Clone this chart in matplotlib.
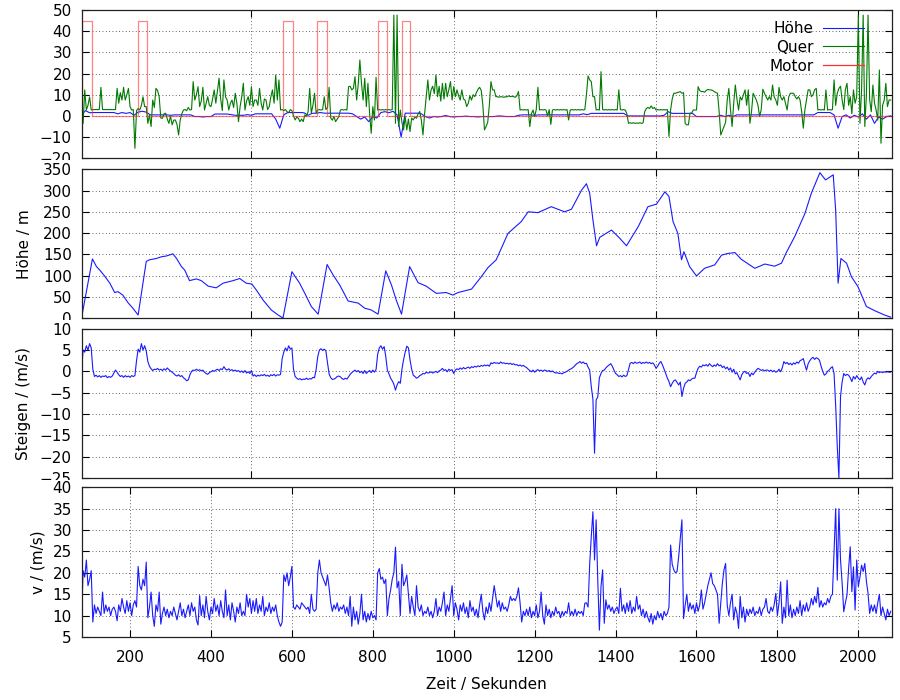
import matplotlib
matplotlib.use("Agg")
import matplotlib.pyplot as plt
import numpy as np
from matplotlib.transforms import Bbox, TransformedBbox

# time grid start / step of the sampled series
T0 = 80
DT_FAST = 4     # v, Steigen, Quer
DT_SLOW = 10    # Hoehe control (blue, top panel)

# ---- panel 2: Hoehe / m (breakpoints)
hoehe_t = [80, 107, 117, 125, 137, 150, 162, 170, 182, 195, 207, 220,
           240, 248, 265, 277, 290, 306, 315, 327, 335, 347, 364, 376, 393, 413, 430, 455, 471, 487,
           501, 512, 529, 549, 566, 578,
           600, 619, 632, 648, 665,
           687, 702, 718, 739, 764, 780, 796, 813,
           832, 846, 858, 871,
           891, 912, 932, 957, 981, 998, 1011, 1044, 1068, 1085, 1105, 1134, 1167, 1184, 1208, 1241,
           1274, 1291, 1316, 1328, 1336, 1344, 1353, 1361, 1390, 1410, 1427, 1456, 1480, 1501, 1522,
           1532, 1542, 1554, 1563, 1569, 1583, 1600, 1620, 1645, 1662, 1678, 1695, 1711, 1744, 1769,
           1793, 1810, 1822, 1843, 1868, 1884, 1905, 1919, 1938, 1944, 1950, 1957, 1971, 1983, 1999,
           2020, 2041, 2065, 2080]
hoehe_v = [0, 139, 121, 113, 99, 82, 60, 62, 54, 36, 23, 7,
           133, 137, 140, 144, 146, 151, 140, 121, 113, 88, 92, 88, 75, 71, 82, 88, 93, 82,
           80, 66, 42, 19, 7, 0,
           109, 82, 58, 27, 9,
           126, 101, 78, 40, 35, 23, 19, 9,
           111, 78, 42, 9,
           121, 83, 75, 58, 60, 54, 60, 68, 97, 119, 137, 199, 227, 250, 248, 262,
           250, 256, 301, 316, 294, 231, 170, 190, 207, 188, 170, 215, 262, 268, 297,
           286, 227, 199, 137, 156, 121, 99, 117, 125, 148, 152, 154, 138, 117, 127,
           122, 129, 154, 192, 246, 294, 342, 325, 337, 254, 82, 140, 129, 97, 74,
           27, 17, 7, 2]

# ---- panel 4: v / (m/s), every 4 s from t=80
v_ms = [
    9, 20.5, 19, 23, 17, 18.5, 20.5, 8.5, 12.5, 10.5, 12, 11, 10, 15.5, 10.5, 12.5, 11, 12, 10, 11.5, 12, 11, 8.8, 12.5, 11,
    14, 12, 10.5, 13.5, 11, 13, 10, 12.5, 13.5, 12, 21.5, 17, 16, 18.5, 17, 22.5, 9.5, 12, 15.5, 10, 7.5, 12.5, 11, 15.5, 8,
    10.5, 12, 10, 11.5, 9.5, 11, 10, 12, 10.5, 9, 11, 13, 10, 11.5, 9.5, 11, 12.5, 10, 13, 11, 12, 9, 7.8, 14.7, 10,
    12.5, 9.5, 14.5, 11, 9, 12, 10.5, 14, 11, 12.5, 10, 13.5, 11, 9.5, 16, 10, 12.5, 9, 13, 11, 8.5, 12, 10.5, 13, 10,
    11, 10, 15, 12, 14, 10.5, 13.5, 11, 14, 10.5, 12.5, 11, 14.5, 10, 12, 11, 13, 10.5, 12, 11, 12.5, 10, 8.5, 7.5, 8.5,
    19.5, 18, 20, 17, 19, 21.5, 12, 11.5, 12.5, 12, 11.5, 13, 12.5, 12, 11.5, 12, 10.5, 15, 11.5, 11, 11.5, 20, 23, 20, 19,
    18, 17, 19.5, 16.5, 13, 11, 12.5, 11.5, 13, 11, 12, 11.5, 12.5, 10.5, 12, 10, 14.5, 7.5, 12, 9, 11, 8, 10.5, 15, 9,
    11, 8.5, 10.5, 9, 11, 9.5, 10, 9, 20, 21, 18.5, 19, 17.5, 18.5, 10, 14, 16, 18.5, 20, 26, 16.5, 18, 10, 22, 17,
    18, 19.5, 15, 10.5, 14.5, 12, 10, 17, 12, 11, 12.5, 10, 11, 10.5, 12, 10, 11, 9.5, 11, 14, 10, 12, 11, 13, 15.5,
    10, 12.5, 11, 14, 17, 10, 13, 11.5, 9, 12.5, 11, 13, 10.5, 12, 9.5, 13.5, 11, 12, 10, 11.5, 9.5, 12.5, 15, 11, 9,
    12, 10.5, 13, 11, 14, 17, 14.5, 12, 13.5, 11, 13, 11.5, 12, 11, 12.5, 14.5, 13.5, 14, 13.5, 14.5, 16.5, 13, 8.5, 11, 10,
    11.5, 10, 12, 9.5, 11, 10, 12.5, 9.5, 11, 15.5, 10, 8, 12.5, 10, 11.5, 9.5, 11, 10, 12, 10.5, 11, 9.5, 11, 10, 11,
    10.5, 13, 10, 11, 10, 11.5, 10, 11, 10.5, 11, 10, 12.9, 13, 12, 22, 28.5, 34.3, 23, 32.4, 18.3, 6.6, 16.8, 20.7, 8.2, 13.7,
    11.5, 12.5, 11, 12, 10.5, 11.5, 12, 10.5, 16.4, 11, 12.5, 10.5, 13, 11, 13.5, 10.5, 12, 11, 14.5, 11.5, 12.5, 10, 11.5, 9.5, 11,
    9.5, 8.5, 10.5, 8, 10, 9, 11, 9.5, 10.5, 9, 11, 10, 10.5, 12, 26.5, 22, 20.7, 20, 20.3, 23.8, 28, 32.4, 9.3, 12.4, 15,
    11, 13, 11.5, 12.5, 10.5, 13, 11, 12.5, 16, 11.5, 13, 15, 17, 18.5, 20, 17.5, 17, 16, 15, 8.2, 13, 17.6, 20.7, 22.2, 12.4,
    10, 13, 15, 9, 12, 10.5, 7, 14.5, 9.5, 12, 8.5, 11.5, 10, 11.5, 10.5, 12, 10, 11, 10.5, 12, 10, 11.5, 12, 14, 11,
    10.5, 12, 11, 12.5, 15.2, 10, 13, 17.9, 8.2, 12, 9.5, 18.3, 10, 12.5, 9.5, 11.5, 10, 12, 10.5, 13.5, 10, 12.5, 11, 13, 11,
    12, 14, 12.5, 14.5, 13, 16.6, 12, 13.5, 12, 13, 12.5, 14, 13, 14.5, 15, 25.3, 35, 18.3, 35, 23, 17.6, 10.9, 13, 14.8, 21,
    26.1, 15.6, 21.4, 11.3, 23, 16.8, 19, 21.8, 20.3, 22.2, 18, 15.2, 10.5, 12.5, 11, 12.5, 10.5, 13, 15, 10, 12, 10.5, 9, 11.5, 10,
    11]

# ---- panel 3: Steigen / (m/s), every 4 s from t=80
steigen = [
    0.3, 5, 4.5, 6, 5, 6.5, 5.5, 0.5, -1.2, -0.9, -1.3, -1.0, -1.4, -1.1, -1.2, -1.0, -1.5, -1.2, -1.4, -1.1, -0.4, 0.3, -0.2, -0.8, -1.2,
    -1.0, -1.4, -1.0, -1.3, -1.1, -1.4, -1.0, -1.2, -1.0, 2.5, 5.2, 4.5, 6.5, 5, 6, 4.8, 2.3, 1.2, 0.6, 0.2, 0.5, 0.4, 0.7, 0.3, 0.5,
    0.2, 0.6, 0.3, 0.8, 0.4, 0.1, -0.2, -0.5, -0.9, -1.1, -0.8, -1.2, -1.0, -1.5, -1.8, -2.2, -2.0, -0.8, 0, 0.3, 0.2, 0.5, 0.2, 0.4, 0.1,
    0.3, -0.2, -0.5, -0.7, -0.3, -0.1, 0.2, 0.0, 0.3, 0.5, 0.2, 0.6, 0.4, 1.1, 0.5, 0.3, 0.6, 0.2, 0.4, 0.1, 0.3, 0.0, 0.2, -0.2, 0.1,
    -0.3, 0.2, -0.4, -0.1, -0.5, 0.2, -1.1, -0.8, -1.2, -0.9, -1.1, -0.8, -1.0, -0.7, -1.1, -0.9, -1.2, -0.8, -1.0, -0.7, -1.1, -0.8, -0.9, -0.7, 3.0,
    4.5, 5.5, 4.8, 6, 5.2, 5.5, 0.5, -1.2, -1.6, -1.9, -1.7, -2.0, -1.8, -1.9, -1.6, -1.9, -1.7, -1.8, -1.4, -1.5, 0.5, 3.5, 5, 5.3, 4.9,
    5.2, 4.8, 2, -0.6, -1.5, -1.9, -1.8, -1.6, -1.2, -1.1, -1.3, -1.7, -1.9, -1.6, -1.8, -1.3, -0.7, -0.3, 0.0, 0.3, -0.1, 0.2, -0.3, 0.0, -0.5,
    0.2, -0.5, -0.1, 0.2, -0.3, 0.3, -0.2, 0.4, 4, 5.5, 6, 5.2, 5.8, 3.5, 0.3, -0.6, -1.6, -2.2, -3.0, -4.4, -3.2, -2.4, -2.8, 0.5, 2.7,
    4.5, 5.9, 5.5, 2.7, 0.5, -0.9, -1.2, -1.6, -1.4, -1.0, -0.8, -0.5, -0.6, -0.2, -0.4, -0.3, -0.1, -0.4, -0.2, 0.0, -0.3, 0.1, 0.3, 0.7, 0.2,
    0.4, -0.1, 0.5, 0.2, 0.4, -0.5, 0.3, 0.6, 0.4, 0.8, 0.5, 0.9, 0.6, 0.8, 1.0, 0.7, 1.1, 0.9, 1.2, 1.0, 1.3, 1.1, 1.4, 1.2, 1.5,
    1.3, 1.5, 1.2, 2.0, 1.8, 2.1, 1.9, 2.0, 1.8, 2.2, 1.9, 2.0, 1.8, 1.9, 1.7, 1.9, 1.6, 1.8, 1.5, 1.6, 1.3, 1.5, 1.2, 1.4, 1.1,
    0.9, 0.5, 0.2, -0.1, 0.3, -0.2, 0.2, 0.4, 0.1, 0.3, 0.0, 0.3, 0.2, 0.0, 0.2, -0.1, 0.1, -0.2, -0.4, -0.3, -0.5, -0.4, -0.6, -0.3, -0.2,
    0.0, 0.3, 0.5, 0.7, 1.0, 1.4, 1.8, 2.0, 2.3, 1.9, 2.2, 1.8, 1.9, 1.0, 0.3, -3.6, -6.5, -19.2, -6.7, -6.0, -1.5, -0.5, 0.2, 0.3, 0.8,
    1.2, 1.5, 1.8, 1.2, 0.3, -0.5, -0.8, -1.2, -1.0, -1.3, -0.9, -1.2, -1.0, 0.5, 1.9, 2.1, 1.8, 2.2, 1.9, 2.0, 2.2, 1.8, 2.1, 1.9, 2.2,
    1.9, 2.1, 1.8, 2.0, 1.5, 0.7, 1.2, 1.9, 2.3, 1.5, 0.5, -0.5, -1.6, -2.4, -3.6, -2.8, -2.2, -2.0, -2.6, -3.2, -2.5, -5.9, -4.0, -2.8, -2.5,
    -2.0, -2.2, -1.8, -1.6, -1.6, -0.3, 0.7, 1.2, 1.0, 1.5, 1.3, 1.6, 1.2, 1.8, 1.4, 1.1, 1.5, 1.2, 1.8, 1.3, 1.5, 0.9, 1.2, 0.6, 1.0,
    0.3, 0.8, -0.2, 0.5, -0.6, -0.3, -1.2, -2.0, -0.8, -0.2, 0.0, -0.5, -0.3, -1.2, -0.4, -0.8, -0.2, 0.3, 0.7, 0.5, 0.2, 0.4, 0.1, 0.3, 0.3,
    0.0, 0.3, -0.1, 0.2, -0.2, 0.0, 0.5, -0.1, 0.8, 2.3, 1.8, 2.1, 1.6, 1.9, 1.5, 2.0, 1.7, 2.2, 1.9, 2.5, 2.7, 3.0, 1.5, 0.3, 1.8,
    2.5, 3.0, 3.3, 2.8, 3.2, 3.0, 2.6, 1.2, 0.0, -0.9, -0.6, 0.0, 0.3, 0.8, 1.1, -0.5, -8.0, -17.7, -25.0, -5.9, -2.5, -0.5, -1.0, -0.7, -0.9,
    -1.5, -2.4, -1.2, -1.8, -1.0, -1.6, -2.0, -1.3, -2.5, -3.2, -2.0, -1.5, -1.8, -1.2, -0.8, -0.4, -0.6, 0.0, -0.3, -0.1, -0.3, -0.1, -0.2, -0.1, -0.2,
    -0.2]

# ---- panel 1: Quer (green), every 4 s from t=80
quer = [
    -1, -3.5, 12.3, 2.8, 5, 9, 2.8, 3, 3, 3, 3, 3, 13.5, 3, 3, 3, 3, 3, 3, 3, 3, 3, 13, 6, 11,
    7.5, 13.5, 7.5, 10, 13, 4.4, 2.8, 3, -15.3, 2.5, 3.5, 2.8, 5, 9, 4.4, 4.4, -3.5, 0.5, -5, 7.5, 4, 13, 12, 9, -1,
    -1.1, 1, 1.3, -1.5, -3.5, 0, -4.2, -2, -1.9, -4, -9, -1.9, 1, 2.8, 3, 2.5, 4, 2.8, 3, 16.2, 7.5, 10, 13.8, 4.4, 7,
    13.5, 2.8, 6, 9.1, 5, 4.4, 8, 12.3, 6, 12, 17.8, 8, 2.5, 17, 9, 7.5, 2.8, 6, 7.5, 4, 10.7, 6, -2.7, 4.4, 9,
    15.4, 2.8, 7, 9.1, 5, 13.8, 4.4, 7.5, 7.5, 5, 13, 6, 2.8, 8, 7.5, 3, 4.4, 9, 12.3, 6, 19.3, 7.5, 17, 2.8, 3,
    2.5, 3, 2, 1.5, 3, 2.5, 0, -1.9, -0.5, -1.1, -2.7, -1.5, -2.7, 0.5, -0.3, 2, 13, 1.3, 5, 10.7, 1.3, 2.8, 3, 2.8, 3,
    9, 3, 4, 13.5, -1, -2, -0.3, -2.7, -1.5, -0.3, 2.8, 3, 2.8, 3, 2.8, 13.8, 14, 12.3, 13, 18.5, 7.5, 15, 26.4, 15.4, 7.5,
    17.8, 4.4, 15.4, 1.3, -8.2, 4.4, -1.9, 18.2, 2.8, 3, 2.8, 3, 2.8, 3, 2.8, 3, 2.8, 3, 47.6, -3.5, 47.6, -5, 2.8, -3, -6.6,
    -0.3, -6.6, -1.5, -7.4, -1, -1.9, -0.5, -1.1, 1, 2.1, -2, -9, 1, 9.1, 17, 7.5, 12.3, 14, 10.5, 19.3, 9.1, 14, 7, 15.4, 8,
    15.4, 9.1, 12.5, 16.2, 7.5, 13.8, 9.1, 12.3, 9.5, 7.5, 12.3, 8, 7.5, 4.4, 6, 9.5, 7.5, 10, 9.1, 11, 12.6, 13.5, 12, 5, -6.6,
    -5, -3, 5, 16.2, 12.3, 12.3, 9.1, 9.1, 8.8, 9.1, 9, 8.8, 9.1, 9, 9.5, 9.1, 9.3, 9.1, 8.8, 9.5, 11.5, 2.8, 3, 2.8, 3,
    2.8, 3, -5, 1, 2.8, -0.3, 3, 13.5, 2.8, 3, 2.8, 3, 2.8, 0, 3, -4, 2.8, 3, 2.8, 3, 2.8, 3, 2.8, 3, 2.8,
    3, -1.9, 2.8, 3, 2.8, 3, 2.8, 3, 2.8, 3, 2.8, 3, 10, 18.9, 17, 16.2, 9.1, 9.1, 2.8, 3, 2.8, 20.9, 3, 2.8, 3,
    2.8, 3, 2.8, 3, 2.8, 3, 2.8, 12.3, 3, 2.8, 3, 2.8, 1, -3.5, -3.2, -3.5, -3.2, -3.5, -3.3, -3.5, -3.2, -3.5, -3.3, 2, 3.5,
    4, 3.5, 4.7, 3.5, 4, 2.8, 3, 2.8, 3, 2.8, 3, 2.8, 3, -9.7, 2.8, 8, 10.7, 10.7, 11, 11.2, 11.5, 10.7, 11, -3.5, -4.2,
    -4.2, 1.3, 1.3, 2.8, 2.8, 2.8, 13.8, 12, 11.5, 11.5, 11.2, 12, 12.5, 12.3, 12.3, 12, 11.5, 11, 10.7, 2, -9, -7, -5, -3, 7.5,
    13, 3, -5, 6, 14.6, 8, 2.8, 9, 7.5, 10, 12.3, 5, 12.3, -3.5, 2, 10.7, 9.1, 7.5, 5, -0.3, 3, 12.6, 10.7, 9.1, 7.5,
    9.1, 7.5, 14.6, 9, 7.5, 5, 13.5, 9, 7.5, 9.1, 6, 2.8, 9, 10.7, 10.7, 10.7, 9.1, 8, 9.1, 7.5, 2, -5.8, 3, 7.5, 12.3,
    12.3, 9.1, 10, 12.3, 13, 2.8, 3, 2.8, 3, 2.8, 12.3, 2.8, 3, 2.8, 3, 17, 5, 10.7, 13, 14, 7.5, 3, 12.5, 15.4, 5,
    9.1, 1, 12.3, 6, 9, 47.6, -3.5, 12, 47.6, -5, 10, 47.6, 7.5, 2, 14.6, 6, 2.8, -2, 21.7, -12.9, 5, 7.5, 15.4, 4.4, 7.5,
    7.5]

# ---- panel 1: Hoehe (blue, small values), every 10 s from t=80
hoehe_ctl = [
    0.5, 2.5, 1.5, 1.6, 1.6, 1.6, 1.6, 1.6, 1.6, 1.0,
    1.6, 1.2, 1.6, 0.3, 1.8, 2.2, 1.8, 0.5, 0.5, 0.5,
    0.5, 0.5, 0.3, 0.5, 0.5, 0.5, 0.5, 0.5, -0.3, -0.3,
    -0.5, -0.3, -0.3, 0.9, 0.9, 0.9, 0.9, 0.6, 0.3, 0.3,
    0.3, 0.6, 0.3, 1.0, 1.0, 1.0, 1.0, 1.0, -1.5, -5.8,
    0.5, 1.6, 1.6, 1.6, 1.6, 1.5, 0.3, 1.2, 1.3, 1.6,
    1.3, 1.3, 1.3, 1.3, 1.3, 1.3, 1.3, 1.0, -0.3, -1.5,
    -0.5, -2.7, -0.3, -1.0, 1.6, 2.0, 1.5, 2.2, 0.5, -10,
    1.3, 1.3, 1.3, 1.3, 1.0, -0.3, -1.0, -0.3, -0.5, -0.3,
    0.2, -0.3, -0.5, -0.3, -0.3, -0.1, -0.3, -0.3, -0.5, -0.3,
    -0.3, -0.3, -0.3, 0, -0.1, -0.3, -0.3, -0.3, 0.3, 0.5,
    0.5, 0.5, 0.3, 0.5, 0.5, 0.5, 0.5, 0.5, 0.5, 0.5,
    0.5, 0.5, 0.5, 0.5, 1.0, 0.6, 1.2, 1.2, 1.2, 1.2,
    1.2, 1.2, 1.2, 1.2, 1.2, 0.0, 0.0, 0.0, 0.0, 0.0,
    0.0, 0.0, 0.0, 0.0, 0.3, 2.0, 1.2, 1.2, 1.2, 1.2,
    1.2, 1.2, -0.3, -0.3, -0.3, -0.3, -0.3, -0.3, 0.3, -0.3,
    0.3, -0.3, 0.5, 0.5, 0.5, 0.5, 0.5, 0.5, 0.5, 0.5,
    0.5, 0.5, 0.5, 0.5, 0.5, 0.5, 0.5, 0.5, 0.5, 0.5,
    0.5, 0.5, 1.6, 1.6, 1.6, 1.6, 0.5, -5.8, -0.3, 0.5,
    -1.0, 0.3, -0.5, 1.0, -1.5, 0.5, -3.5, -0.5, -1.5, -0.3,
    0.0]

# ---- panel 1: Motor (red), on/off switching times
motor_t = [80, 81, 107, 220, 242, 577, 602, 662, 688, 813, 834, 873, 891, 2082]
motor_v = [0, 45, 0, 45, 0, 45, 0, 45, 0, 45, 0, 45, 0, 0]

t_fast = T0 + DT_FAST * np.arange(len(v_ms))
t_st = T0 + DT_FAST * np.arange(len(steigen))
t_q = T0 + DT_FAST * np.arange(len(quer))
t_slow = T0 + DT_SLOW * np.arange(len(hoehe_ctl))

plt.rcParams['font.family'] = ['DejaVu Sans']
FS = 11
BLUE = '#1a1aff'
GREEN = '#007a00'
RED = '#ff3030'

fig = plt.figure(figsize=(9, 7), dpi=100)
L, W = 81.5 / 900, 810 / 900
tops = [(10, 158.3), (169.3, 318), (328.7, 478), (487.3, 637)]
axes = []
for top, bot in tops:
    axes.append(fig.add_axes([L, 1 - bot / 700, W, (bot - top) / 700]))
ax1, ax2, ax3, ax4 = axes

ax1.plot(t_slow, hoehe_ctl, color=BLUE, lw=0.8, label='Höhe')
ax1.plot(t_q, quer, color=GREEN, lw=0.8, label='Quer')
ax1.plot(motor_t, motor_v, color=RED, lw=0.9, alpha=0.6, drawstyle='steps-post', label='Motor')
ax1.set_ylim(-20, 50)
ax1.set_yticks(np.arange(-20, 51, 10))
leg = ax1.legend(loc='upper right', bbox_to_anchor=(1 - 27.5 / 810, 1 - 11 / 148.3), frameon=False,
                 markerfirst=False, handlelength=2.7, handletextpad=0.6, fontsize=FS,
                 labelspacing=0.25, borderaxespad=0, borderpad=0)
for h in leg.get_lines():
    h.set_alpha(1.0)

ax2.plot(hoehe_t, hoehe_v, color=BLUE, lw=0.8)
ax2.set_ylim(0, 350)
ax2.set_yticks(np.arange(0, 351, 50))
ax2.set_ylabel('Höhe / m', fontsize=FS, labelpad=8)

ax3.plot(t_st, steigen, color=BLUE, lw=0.8)
ax3.set_ylim(-25, 10)
ax3.set_yticks(np.arange(-25, 11, 5))
ax3.set_ylabel('Steigen / (m/s)', fontsize=FS, labelpad=6)

ax4.plot(t_fast, v_ms, color=BLUE, lw=0.8)
ax4.set_ylim(5, 40)
ax4.set_yticks(np.arange(5, 41, 5))
ax4.set_ylabel('v / (m/s)', fontsize=FS, labelpad=5)
ax4.set_xlabel('Zeit / Sekunden', fontsize=FS, labelpad=9)

for ax in axes:
    ax.set_xlim(80, 2082)
    ax.grid(True, color='black', linestyle=(0, (1, 3)), linewidth=0.6, alpha=0.8)
    ax.tick_params(direction='in', top=True, right=True, length=5, width=0.8, labelsize=FS)
    ax.tick_params(axis='y', pad=7)
    ax.tick_params(axis='x', pad=9)
    for s in ax.spines.values():
        s.set_linewidth(0.9)
        s.set_color('#222222')
for ax in axes[:3]:
    ax.set_xticks([500, 1000, 1500, 2000])
    ax.tick_params(labelbottom=False)
ax4.set_xticks(np.arange(200, 2001, 200))

# lower panels paint over the bottom tick label of the panel above
for ax, (top, bot) in zip(axes[:3], tops[:3]):
    fig.canvas.draw()
    clip = TransformedBbox(Bbox.from_extents(0, 1 - (bot + 2) / 700, 1, 1), fig.transFigure)
    for lab in ax.get_yticklabels():
        lab.set_clip_box(clip)
        lab.set_clip_on(True)

fig.savefig('out.png', dpi=100)
